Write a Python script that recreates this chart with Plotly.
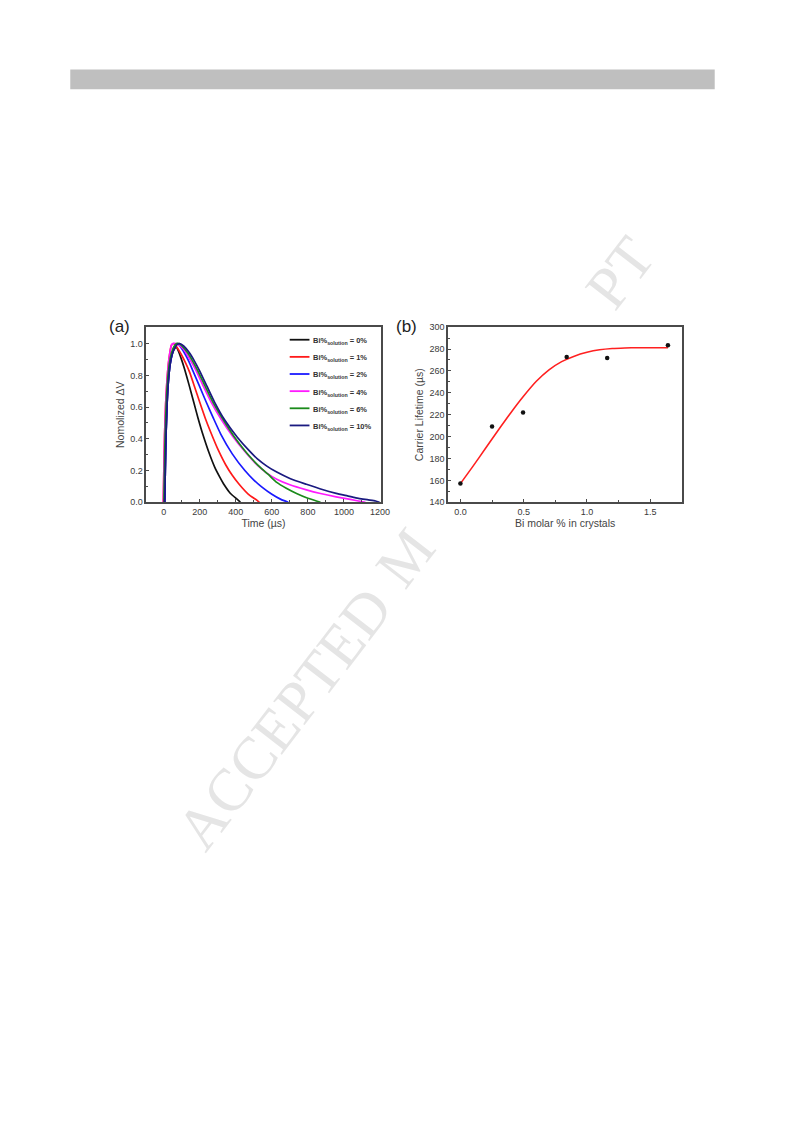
import plotly.graph_objects as go

# page box in the browser: body margin of 8 px is compensated
PAGE_W, PAGE_H = 793, 1123
OFF = 8
W, H = PAGE_W - 2 * OFF, PAGE_H - 2 * OFF

# ---------- Panel (a): normalized photovoltage transients ----------
series_names = ["0%", "1%", "2%", "4%", "6%", "10%"]
series_colors = ["#111111", "#ff1a1a", "#1a1aff", "#ff1aff", "#1a8a1a", "#1a1a80"]

t_0 = [5, 8, 12, 18, 25, 35, 45, 55, 69, 80, 95, 115, 140, 165, 190, 216, 250, 283, 310, 335, 370, 408, 425]
v_0 = [0, 0.2, 0.42, 0.62, 0.76, 0.87, 0.93, 0.96, 0.98, 0.955, 0.91, 0.84, 0.74, 0.635, 0.53, 0.43, 0.315, 0.22, 0.16, 0.11, 0.055, 0.018, 0]

t_1 = [-3, 0, 4, 10, 18, 28, 42, 55, 65, 80, 100, 120, 143, 170, 198, 230, 261, 300, 344, 380, 417, 470, 518, 530]
v_1 = [0, 0.2, 0.42, 0.62, 0.78, 0.9, 0.99, 1.0, 0.99, 0.965, 0.925, 0.88, 0.82, 0.73, 0.635, 0.53, 0.44, 0.335, 0.235, 0.17, 0.115, 0.05, 0.012, 0]

t_2 = [5, 8, 12, 18, 25, 35, 48, 62, 75, 95, 120, 140, 161, 195, 234, 275, 316, 380, 450, 500, 545, 600, 650, 691]
v_2 = [0, 0.2, 0.42, 0.62, 0.76, 0.87, 0.94, 0.985, 1.0, 0.975, 0.93, 0.885, 0.83, 0.74, 0.635, 0.53, 0.43, 0.305, 0.2, 0.14, 0.095, 0.05, 0.018, 0]

t_4 = [-3, 0, 4, 10, 18, 28, 42, 50, 70, 85, 110, 140, 179, 220, 261, 320, 380, 450, 518, 570, 627, 700, 792, 870, 957, 1020, 1066, 1120]
v_4 = [0, 0.2, 0.42, 0.62, 0.78, 0.9, 0.99, 1.0, 1.0, 0.99, 0.965, 0.91, 0.83, 0.73, 0.635, 0.52, 0.42, 0.32, 0.235, 0.185, 0.145, 0.11, 0.078, 0.055, 0.034, 0.021, 0.011, 0]

t_6 = [0, 3, 7, 13, 20, 30, 42, 55, 70, 85, 100, 130, 160, 188, 230, 271, 330, 390, 450, 500, 540, 580, 627, 680, 737, 800, 847, 870]
v_6 = [0, 0.2, 0.42, 0.62, 0.76, 0.87, 0.94, 0.98, 1.0, 1.0, 0.985, 0.945, 0.89, 0.83, 0.73, 0.635, 0.52, 0.415, 0.325, 0.26, 0.215, 0.175, 0.125, 0.088, 0.055, 0.025, 0.008, 0]

t_10 = [5, 8, 12, 18, 25, 35, 48, 62, 75, 88, 110, 140, 170, 198, 240, 280, 340, 408, 470, 518, 572, 627, 700, 792, 880, 957, 1020, 1066, 1130, 1176, 1198]
v_10 = [0, 0.2, 0.42, 0.62, 0.76, 0.87, 0.94, 0.975, 0.995, 1.0, 0.985, 0.945, 0.89, 0.83, 0.73, 0.635, 0.515, 0.41, 0.33, 0.275, 0.228, 0.19, 0.15, 0.113, 0.08, 0.056, 0.04, 0.028, 0.016, 0.008, 0]

series_t = [t_0, t_1, t_2, t_4, t_6, t_10]
series_v = [v_0, v_1, v_2, v_4, v_6, v_10]

# ---------- Panel (b): carrier lifetime vs Bi content ----------
bi_content = [0.0, 0.25, 0.495, 0.84, 1.16, 1.64]
lifetime = [157.2, 209.1, 222.1, 272.8, 271.9, 283.4]

fit_x = [0.0, 0.1, 0.2, 0.3, 0.4, 0.5, 0.6, 0.7, 0.8, 0.9, 1.0, 1.1, 1.2, 1.3, 1.4, 1.5, 1.64]
fit_y = [157.0, 173.0, 189.5, 206.0, 222.0, 237.0, 250.5, 261.0, 268.5, 273.5, 277.0, 279.3, 280.5, 281.0, 281.2, 281.2, 281.2]

fig = go.Figure()

for name, col, tt, vv in zip(series_names, series_colors, series_t, series_v):
    fig.add_trace(go.Scatter(
        x=tt, y=vv, mode="lines", line=dict(color=col, width=1.7, shape="spline", smoothing=0.5),
        name="Bi%<sub>solution</sub> = " + name, xaxis="x", yaxis="y", showlegend=False))

fig.add_trace(go.Scatter(x=fit_x, y=fit_y, mode="lines", line=dict(color="#ff2020", width=1.6, shape="spline", smoothing=0.6),
                         xaxis="x2", yaxis="y2", showlegend=False))
fig.add_trace(go.Scatter(x=bi_content, y=lifetime, mode="markers",
                         marker=dict(color="#111111", size=4.5), xaxis="x2", yaxis="y2", showlegend=False))


def px(x):
    return (x - OFF) / W


def py(y):
    return 1 - (y - OFF) / H


axis_common = dict(
    showline=True, mirror=True, linecolor="#4a4a4a", linewidth=1.5,
    ticks="inside", ticklen=3, tickwidth=1, tickcolor="#4a4a4a",
    showgrid=False, zeroline=False,
    tickfont=dict(family="Arial, Liberation Sans", size=9, color="#3a3a3a"),
    title_font=dict(family="Arial, Liberation Sans", size=10.5, color="#444444"),
)
minor_common = dict(ticks="inside", ticklen=2, tickcolor="#4a4a4a", showgrid=False)

fig.update_layout(
    width=W, height=H, margin=dict(l=0, r=0, t=0, b=0),
    paper_bgcolor="white", plot_bgcolor="white", showlegend=False,
    xaxis=dict(domain=[px(148), px(385)], anchor="y", range=[-97, 1204],
               tickvals=[0, 200, 400, 600, 800, 1000, 1200],
               minor=dict(dtick=100, **minor_common),
               title=dict(text="Time (µs)", standoff=2), **axis_common),
    yaxis=dict(domain=[py(501.7), py(325)], anchor="x", range=[0, 1.104],
               tickvals=[0, 0.2, 0.4, 0.6, 0.8, 1.0], tickformat=".1f",
               minor=dict(dtick=0.1, **minor_common),
               title=dict(text="Nomolized ΔV", standoff=4), **axis_common),
    xaxis2=dict(domain=[px(453.3), px(690)], anchor="y2", range=[-0.097, 1.752],
                tickvals=[0, 0.5, 1.0, 1.5], tickformat=".1f",
                minor=dict(dtick=0.25, **minor_common),
                title=dict(text="Bi molar % in crystals", standoff=2), **axis_common),
    yaxis2=dict(domain=[py(501.7), py(325)], anchor="x2", range=[140, 300],
                tickvals=[140, 160, 180, 200, 220, 240, 260, 280, 300],
                minor=dict(dtick=10, **minor_common),
                title=dict(text="Carrier Lifetime (µs)", standoff=4), **axis_common),
)

shapes = [dict(type="rect", xref="paper", yref="paper", x0=px(71), x1=px(723), y0=py(85), y1=py(65),
               fillcolor="#bfbfbf", line=dict(width=0), layer="below")]

wm_font = dict(family="Liberation Serif, Times New Roman, serif", size=60, color="#e5e5e5")
annotations = [
    dict(text="ACCEPTED", x=px(287), y=py(720), textangle=-52.4, font=wm_font),
    dict(text="M", x=px(410), y=py(558), textangle=-52.4, font=wm_font),
    dict(text="PT", x=px(627), y=py(270), textangle=-52.4, font=wm_font),
    dict(text="(a)", x=px(121), y=py(324), font=dict(family="Arial, Liberation Sans", size=17, color="#222222")),
    dict(text="(b)", x=px(411), y=py(324), font=dict(family="Arial, Liberation Sans", size=17, color="#222222")),
]

# legend of panel (a), drawn as sample lines + labels
leg_font = dict(family="Arial, Liberation Sans", size=7.5, color="#333333", weight="bold")
for i, (name, col) in enumerate(zip(series_names, series_colors)):
    yy = 337.7 + 17.3 * i
    shapes.append(dict(type="line", xref="paper", yref="paper", x0=px(293), x1=px(313), y0=py(yy), y1=py(yy),
                       line=dict(color=col, width=1.8)))
    annotations.append(dict(text="Bi%<sub>solution</sub> = " + name, x=px(315), y=py(yy + 1.5),
                            xanchor="left", font=leg_font))

for a in annotations:
    a.setdefault("xanchor", "center")
    a.update(xref="paper", yref="paper", showarrow=False, yanchor="middle")
fig.update_layout(annotations=annotations, shapes=shapes)

fig.write_html("out.html")
